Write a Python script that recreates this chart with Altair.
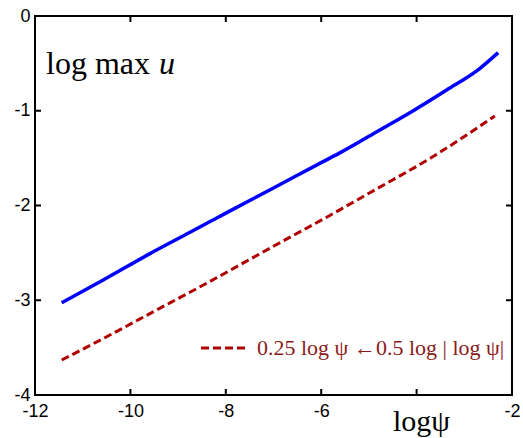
import altair as alt
import pandas as pd

# Data
blue_x = [-11.44, -10.57, -9.59, -8.75, -8.35, -7.98, -7.0, -5.99, -5.61, -4.77, -4.07, -3.37, -2.67, -2.29]
blue_y = [-3.026, -2.786, -2.508, -2.283, -2.175, -2.075, -1.815, -1.545, -1.445, -1.203, -0.999, -0.781, -0.552, -0.387]

red_x = [-11.44, -10.43, -9.45, -8.47, -7.0, -5.82, -4.98, -3.68, -2.95, -2.36]
red_y = [-3.631, -3.367, -3.103, -2.839, -2.43, -2.105, -1.865, -1.491, -1.256, -1.055]

x_ticks = [-12, -10, -8, -6, -4, -2]
y_ticks = [0, -1, -2, -3, -4]

W, H = 477, 379

dfb = pd.DataFrame({"x": blue_x, "y": blue_y})
dfr = pd.DataFrame({"x": red_x, "y": red_y})
xt = pd.DataFrame({"t": x_ticks})
yt = pd.DataFrame({"t": y_ticks})

xs = alt.Scale(domain=[-12, -2], nice=False, zero=False)
ys = alt.Scale(domain=[-4, 0], nice=False, zero=False)

xaxis = alt.Axis(values=x_ticks, ticks=False, domain=False, grid=False,
                 labelFont="Liberation Sans", labelFontSize=18, labelColor="black",
                 labelPadding=7,
                 labelExpr="datum.value == -4 ? '' : (datum.value < 0 ? '-' + abs(datum.value) : '' + datum.value)",
                 title="logψ", titleFont="Liberation Serif", titleFontSize=30,
                 titleFontWeight="normal", titleColor="black",
                 titleX=386, titleY=35, titleAlign="center", titleBaseline="alphabetic",
                 labelFlush=False, labelOverlap=False)
yaxis = alt.Axis(values=y_ticks, ticks=False, domain=False, grid=False,
                 labelFont="Liberation Sans", labelFontSize=18, labelColor="black",
                 labelPadding=5, title=None, labelFlush=False, labelOverlap=False,
                 labelExpr="datum.value < 0 ? '-' + abs(datum.value) : '' + datum.value")

blue = alt.Chart(dfb).mark_line(color="#0000FF", strokeWidth=3.5, interpolate="monotone").encode(
    x=alt.X("x:Q", scale=xs, axis=xaxis),
    y=alt.Y("y:Q", scale=ys, axis=yaxis),
)
red = alt.Chart(dfr).mark_line(color="#B00000", strokeWidth=3, strokeDash=[8, 4], strokeCap="butt",
                               interpolate="monotone").encode(
    x=alt.X("x:Q", scale=xs),
    y=alt.Y("y:Q", scale=ys),
)

tick_style = dict(color="black", strokeWidth=2)
xt_bottom = alt.Chart(xt).mark_rule(**tick_style).encode(
    x=alt.X("t:Q", scale=xs), y=alt.value(H), y2=alt.value(H - 6))
xt_top = alt.Chart(xt).mark_rule(**tick_style).encode(
    x=alt.X("t:Q", scale=xs), y=alt.value(0), y2=alt.value(6))
yt_left = alt.Chart(yt).mark_rule(**tick_style).encode(
    y=alt.Y("t:Q", scale=ys), x=alt.value(0), x2=alt.value(6))
yt_right = alt.Chart(yt).mark_rule(**tick_style).encode(
    y=alt.Y("t:Q", scale=ys), x=alt.value(W), x2=alt.value(W - 6))

legend_line = alt.Chart(pd.DataFrame({"a": [0]})).mark_rule(
    color="#B00000", strokeWidth=3, strokeDash=[8, 4], strokeCap="butt").encode(
    x=alt.value(166), x2=alt.value(212), y=alt.value(332))
legend_text = alt.Chart(pd.DataFrame({"a": [0]})).mark_text(
    text="0.25 log ψ ←0.5 log | log ψ|", font="Liberation Serif", fontSize=22,
    color="#8B1A1A", align="left", baseline="alphabetic").encode(
    x=alt.value(222), y=alt.value(339))

title_text = alt.Chart(pd.DataFrame({"a": [0]})).mark_text(
    text="log max", font="Liberation Serif", fontSize=32,
    color="black", align="left", baseline="alphabetic").encode(
    x=alt.value(11), y=alt.value(58))
title_u = alt.Chart(pd.DataFrame({"a": [0]})).mark_text(
    text="u", font="Liberation Serif", fontSize=32, fontStyle="italic",
    color="black", align="left", baseline="alphabetic").encode(
    x=alt.value(124), y=alt.value(58))

chart = alt.layer(
    blue, red, xt_bottom, xt_top, yt_left, yt_right,
    legend_line, legend_text, title_text, title_u
).properties(
    width=W, height=H,
    autosize=alt.AutoSizeParams(type="none"),
    padding={"left": 35, "top": 16, "right": 11, "bottom": 43},
    background="white",
).configure_view(stroke="black", strokeWidth=2)

chart.save("out.html", embed_options={"renderer": "svg", "actions": False})
